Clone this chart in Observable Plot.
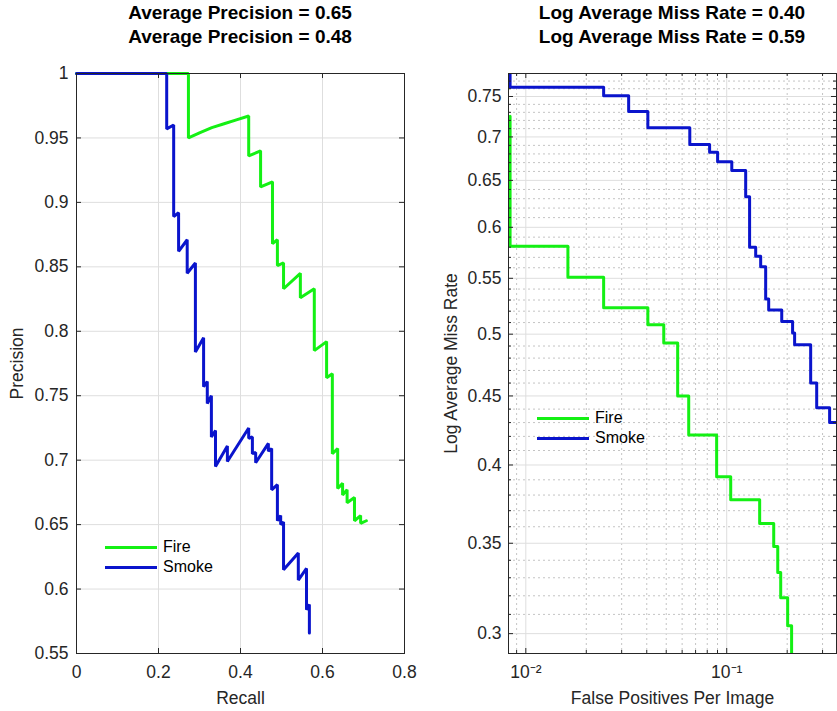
<!DOCTYPE html>
<html>
<head>
<meta charset="utf-8">
<script src="https://cdn.jsdelivr.net/npm/d3@7"></script>
<script src="https://cdn.jsdelivr.net/npm/@observablehq/plot@0.6"></script>
<style>
  body { margin: 0; background: #fff; font-family: "Liberation Sans", Arial, Helvetica, sans-serif; }
  #wrap { position: relative; width: 837px; height: 711px; overflow: hidden; background: #fff; }
  .panel { position: absolute; top: 0; }
  .title { position: absolute; top: 1px; font-weight: bold; font-size: 19px; line-height: 24px; text-align: center; color: #000; white-space: nowrap; }
  .legend { position: absolute; font-size: 16px; color: #000; }
  .legend .row { display: flex; align-items: center; height: 20px; }
  .legend .sw { width: 52px; height: 3px; margin-right: 6px; }
</style>
</head>
<body>
<div id="wrap">
  <div id="left" class="panel" style="left:0px"></div>
  <div id="right" class="panel" style="left:420px"></div>
  <div class="title" style="left:40px;width:400px">Average Precision = 0.65<br>Average Precision = 0.48</div>
  <div class="title" style="left:472px;width:400px">Log Average Miss Rate = 0.40<br>Log Average Miss Rate = 0.59</div>
  <div id="legL" class="legend" style="left:105px;top:537px"></div>
  <div id="legR" class="legend" style="left:537px;top:408px"></div>
</div>
<script>
// ---------- Data ----------
const seriesNames = ["Fire", "Smoke"];
const seriesColors = ["#14f014", "#0a14cc"];

// Precision–Recall (left panel)
const fireRecall = [0, 0.273, 0.273, 0.30, 0.33, 0.36, 0.39, 0.42, 0.42, 0.449, 0.449, 0.478, 0.478, 0.49, 0.49, 0.505, 0.505, 0.546, 0.546, 0.58, 0.58, 0.61, 0.61, 0.624, 0.624, 0.637, 0.637, 0.649, 0.649, 0.66, 0.66, 0.678, 0.678, 0.693, 0.693, 0.707];
const firePrecision = [1, 1, 0.950, 0.954, 0.958, 0.961, 0.964, 0.967, 0.936, 0.940, 0.912, 0.916, 0.868, 0.871, 0.851, 0.853, 0.833, 0.845, 0.826, 0.833, 0.785, 0.792, 0.764, 0.767, 0.705, 0.709, 0.678, 0.682, 0.673, 0.677, 0.667, 0.671, 0.653, 0.657, 0.651, 0.653];
const smokeRecall = [0, 0.22, 0.22, 0.237, 0.237, 0.249, 0.249, 0.27, 0.27, 0.29, 0.29, 0.31, 0.31, 0.319, 0.319, 0.329, 0.329, 0.339, 0.339, 0.368, 0.368, 0.42, 0.42, 0.429, 0.429, 0.437, 0.437, 0.468, 0.468, 0.476, 0.476, 0.49, 0.49, 0.498, 0.498, 0.505, 0.505, 0.541, 0.541, 0.561, 0.561, 0.568, 0.568];
const smokePrecision = [1, 1, 0.957, 0.960, 0.889, 0.892, 0.862, 0.871, 0.845, 0.853, 0.784, 0.795, 0.757, 0.761, 0.744, 0.750, 0.718, 0.723, 0.695, 0.711, 0.699, 0.725, 0.717, 0.718, 0.705, 0.706, 0.698, 0.713, 0.707, 0.709, 0.677, 0.681, 0.653, 0.657, 0.650, 0.652, 0.615, 0.628, 0.607, 0.616, 0.584, 0.588, 0.566];

// Miss rate vs FPPI (right panel), stairs: value changes at each FPPI
const fireFPPI = [0.00835, 0.00835, 0.0162, 0.0244, 0.0405, 0.0486, 0.057, 0.0647, 0.0891, 0.1047, 0.1459, 0.1714, 0.1795, 0.1857, 0.2011, 0.2104];
const fireMissRate = [0.725, 0.581, 0.551, 0.523, 0.508, 0.4925, 0.450, 0.421, 0.392, 0.377, 0.362, 0.348, 0.333, 0.319, 0.304, 0.28];
const smokeFPPI = [0.00835, 0.00835, 0.0244, 0.0325, 0.0405, 0.0655, 0.0822, 0.0901, 0.106, 0.1243, 0.130, 0.1394, 0.1476, 0.1563, 0.1618, 0.1879, 0.2128, 0.2178, 0.2618, 0.2805, 0.3253, 0.36];
const smokeMissRate = [0.79, 0.762, 0.751, 0.731, 0.711, 0.691, 0.682, 0.671, 0.661, 0.632, 0.580, 0.571, 0.561, 0.531, 0.521, 0.511, 0.501, 0.491, 0.460, 0.441, 0.430, 0.430];

// Ticks
const prXTicks = [0, 0.2, 0.4, 0.6, 0.8];
const prYTicks = [0.55, 0.6, 0.65, 0.7, 0.75, 0.8, 0.85, 0.9, 0.95, 1];
const mrXTicks = [0.01, 0.1];
const mrXMinor = [0.009, 0.02, 0.03, 0.04, 0.05, 0.06, 0.07, 0.08, 0.09, 0.2, 0.3];
const mrYTicks = [0.3, 0.35, 0.4, 0.45, 0.5, 0.55, 0.6, 0.65, 0.7, 0.75];
const mrYMinor = [0.29, 0.31, 0.32, 0.33, 0.34, 0.36, 0.37, 0.38, 0.39, 0.41, 0.42, 0.43, 0.44, 0.46, 0.47, 0.48, 0.49, 0.51, 0.52, 0.53, 0.54, 0.56, 0.57, 0.58, 0.59, 0.61, 0.62, 0.63, 0.64, 0.66, 0.67, 0.68, 0.69, 0.71, 0.72, 0.73, 0.74, 0.76, 0.77, 0.78];

// ---------- Build tables ----------
const prData = [
  ...fireRecall.map((r, i) => ({series: "Fire", recall: r, precision: firePrecision[i]})),
  ...smokeRecall.map((r, i) => ({series: "Smoke", recall: r, precision: smokePrecision[i]}))
];
const fireMR = fireFPPI.map((f, i) => ({series: "Fire", fppi: f, mr: fireMissRate[i]}));
const smokeMR = smokeFPPI.map((f, i) => ({series: "Smoke", fppi: f, mr: smokeMissRate[i]}));

const axisColor = "#262626";
const gridColor = "#dedede";
const minorColor = "#c4c4c4";
const font = '"Liberation Sans", Arial, Helvetica, sans-serif';
const H = 711, MT = 73, MB = 58;
const plotH = H - MT - MB; // 580
const tickLen = 5;
const fmt = d => String(+d.toFixed(2));
const sup = {"-": "\u207B", "0": "\u2070", "1": "\u00B9", "2": "\u00B2", "3": "\u00B3"};
const pow10 = d => "10" + String(Math.round(Math.log10(d))).split("").map(c => sup[c] || c).join("");

// ---------- Left panel ----------
const Lw = 420, LML = 76, LMR = 16;
const LplotW = Lw - LML - LMR;
const left = Plot.plot({
  width: Lw, height: H,
  marginLeft: LML, marginRight: LMR, marginTop: MT, marginBottom: MB,
  style: {fontFamily: font, color: axisColor, background: "transparent", overflow: "visible"},
  x: {domain: [0, 0.8]},
  y: {domain: [0.55, 1]},
  color: {domain: seriesNames, range: seriesColors},
  marks: [
    Plot.gridX(prXTicks, {stroke: gridColor, strokeOpacity: 1}),
    Plot.gridY(prYTicks, {stroke: gridColor, strokeOpacity: 1}),
    Plot.line(prData, {x: "recall", y: "precision", z: "series", stroke: "series", strokeWidth: 3, strokeLinejoin: "miter"}),
    Plot.frame({stroke: axisColor, strokeWidth: 1}),
    Plot.tickX(prXTicks, {x: d => d, insetTop: plotH - tickLen, stroke: axisColor}),
    Plot.tickX(prXTicks, {x: d => d, insetBottom: plotH - tickLen, stroke: axisColor}),
    Plot.tickY(prYTicks, {y: d => d, insetRight: LplotW - tickLen, stroke: axisColor}),
    Plot.tickY(prYTicks, {y: d => d, insetLeft: LplotW - tickLen, stroke: axisColor}),
    Plot.axisX({ticks: prXTicks, tickFormat: fmt, tickSize: 0, tickPadding: 12, fontSize: 17.5,
      label: "Recall", labelAnchor: "center", labelArrow: "none", labelOffset: 50}),
    Plot.axisY({ticks: prYTicks, tickFormat: fmt, tickSize: 0, tickPadding: 8, fontSize: 17.5,
      label: "Precision", labelAnchor: "center", labelArrow: "none", labelOffset: 66})
  ]
});
document.getElementById("left").append(left);

// ---------- Right panel ----------
const Rw = 417, RML = 88, RMR = 1;
const RplotW = Rw - RML - RMR;
const right = Plot.plot({
  width: Rw, height: H,
  marginLeft: RML, marginRight: RMR, marginTop: MT, marginBottom: MB,
  style: {fontFamily: font, color: axisColor, background: "transparent", overflow: "visible"},
  x: {type: "log", domain: [0.0082, 0.352]},
  y: {type: "log", domain: [0.29, 0.78]},
  color: {domain: seriesNames, range: seriesColors},
  marks: [
    Plot.gridX(mrXMinor, {stroke: minorColor, strokeOpacity: 1, strokeDasharray: "2,3"}),
    Plot.gridY(mrYMinor, {stroke: minorColor, strokeOpacity: 1, strokeDasharray: "2,3"}),
    Plot.gridX(mrXTicks, {stroke: gridColor, strokeOpacity: 1}),
    Plot.gridY(mrYTicks, {stroke: gridColor, strokeOpacity: 1}),
    Plot.line(fireMR, {x: "fppi", y: "mr", stroke: "series", strokeWidth: 3, curve: "step-after", clip: true}),
    Plot.line(smokeMR, {x: "fppi", y: "mr", stroke: "series", strokeWidth: 3, curve: "step-after", clip: true}),
    Plot.frame({stroke: axisColor, strokeWidth: 1}),
    Plot.tickX(mrXTicks, {x: d => d, insetTop: plotH - tickLen, stroke: axisColor}),
    Plot.tickX(mrXTicks, {x: d => d, insetBottom: plotH - tickLen, stroke: axisColor}),
    Plot.tickX(mrXMinor, {x: d => d, insetTop: plotH - 3, stroke: axisColor}),
    Plot.tickX(mrXMinor, {x: d => d, insetBottom: plotH - 3, stroke: axisColor}),
    Plot.tickY(mrYTicks, {y: d => d, insetRight: RplotW - tickLen, stroke: axisColor}),
    Plot.tickY(mrYTicks, {y: d => d, insetLeft: RplotW - tickLen, stroke: axisColor}),
    Plot.tickY(mrYMinor, {y: d => d, insetRight: RplotW - 3, stroke: axisColor}),
    Plot.tickY(mrYMinor, {y: d => d, insetLeft: RplotW - 3, stroke: axisColor}),
    Plot.axisX({ticks: mrXTicks, tickFormat: pow10, tickSize: 0, tickPadding: 12, fontSize: 17.5,
      label: "False Positives Per Image", labelAnchor: "center", labelArrow: "none", labelOffset: 50}),
    Plot.axisY({ticks: mrYTicks, tickFormat: fmt, tickSize: 0, tickPadding: 7, fontSize: 17.5,
      label: "Log Average Miss Rate", labelAnchor: "center", labelArrow: "none", labelOffset: 64})
  ]
});
document.getElementById("right").append(right);

// ---------- Legends ----------
function legend(id) {
  const el = document.getElementById(id);
  seriesNames.forEach((name, i) => {
    const row = document.createElement("div");
    row.className = "row";
    const sw = document.createElement("div");
    sw.className = "sw";
    sw.style.background = seriesColors[i];
    const t = document.createElement("span");
    t.textContent = name;
    row.append(sw, t);
    el.append(row);
  });
}
legend("legL");
legend("legR");
</script>
</body>
</html>
